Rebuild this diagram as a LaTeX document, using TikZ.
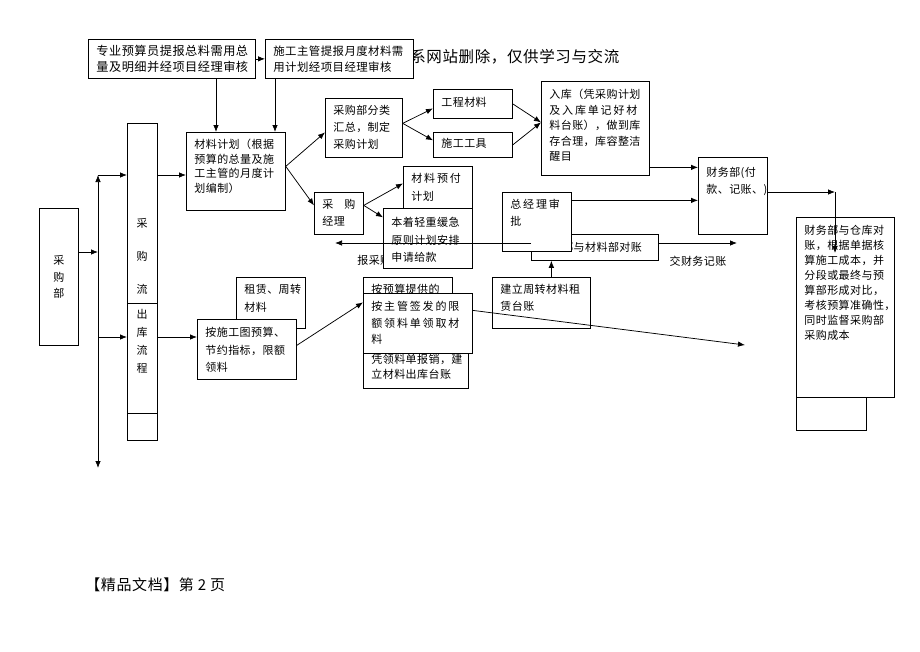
\documentclass[tikz,border=0pt]{standalone}
\usepackage{fontspec}
\setmainfont{Noto Sans CJK SC}[LetterSpace=4]
\usetikzlibrary{arrows.meta,calc,positioning}

% box text: top padding, width, height, text
\newcommand{\bx}[4][7pt]{\parbox[c][#3][t]{#2}{\vspace*{#1}\leftskip=8pt\rightskip=0pt plus 1fil\noindent #4\par}}

\begin{document}
\begin{tikzpicture}[
    x=1pt, y=-1pt,
    line width=0.75pt,
    every node/.style={font=\fontsize{11}{15}\selectfont},
    box/.style={draw, fill=white, inner sep=0pt, anchor=north west},
    arr/.style={-{Latex[length=7pt,width=5.5pt]}},
    lbl/.style={inner sep=0pt}
]
    \useasboundingbox (0,0) rectangle (920,651);

    \node[lbl, anchor=west, font=\fontsize{15.5}{18}\selectfont] (wm) at (410,57) {系网站删除，仅供学习与交流};

    % top boxes
    \node[box, font=\fontsize{12.2}{16}\selectfont] (ysy) at (88,39) {\bx[6pt]{167pt}{39pt}{专业预算员提报总料需用总\\量及明细并经项目经理审核}};
    \node[box, font=\fontsize{11.4}{16}\selectfont] (zgtb) at (265,39) {\bx[6pt]{148pt}{39pt}{施工主管提报月度材料需\\用计划经项目经理审核}};

    % left column
    \node[box, minimum width=39pt, minimum height=137pt, align=center] (cgb) at (39,208) {采\\[1.5pt]购\\[1.5pt]部};
    \node[box, minimum width=30pt, minimum height=317pt] (cgl) at (127,123) {};
    \draw ([yshift=-180pt]cgl.north west) -- ([yshift=-180pt]cgl.north east);
    \draw ([yshift=-290pt]cgl.north west) -- ([yshift=-290pt]cgl.north east);
    \node[lbl, align=center] (cgt) at (142,256) {采\\[18pt]购\\[18pt]流};
    \node[lbl, align=center] (ckt) at (142,341) {出\\[3pt]库\\[3pt]流\\[3pt]程};

    % purchase branch
    \node[box, font=\fontsize{11}{14.5}\selectfont] (clih) at (186,132) {\bx{99pt}{78pt}{材料计划（根据\\预算的总量及施\\工主管的月度计\\划编制）}};
    \node[box] (cgfl) at (325,98) {\bx{77pt}{59pt}{采购部分类\\[2pt]汇总，制定\\[2pt]采购计划}};
    \node[box] (gccl) at (433,89) {\bx[8pt]{79pt}{29pt}{工程材料}};
    \node[box] (sggj) at (433,132) {\bx[6pt]{79pt}{25pt}{施工工具}};
    \node[box, font=\fontsize{11}{15.5}\selectfont] (rk) at (541,81) {\bx[8pt]{108pt}{94pt}{入库（凭采购计划\\及\,入\,库\,单\,记\,好\,材\\料台账），做到库\\存合理，库容整洁\\醒目}};
    \node[box] (cwb) at (698,157) {\bx[10pt]{69pt}{77pt}{财务部(付\\[2pt]款、记账、)}};
    \node[box] (cgjl) at (314,192) {\bx{49pt}{42pt}{采\quad 购\\[2pt]经理}};
    \node[box] (yfjh) at (403,166) {\bx{69pt}{42pt}{材\,料\,预\,付\\[3pt]计划}};
    \node[lbl, anchor=west] (bcg) at (357,260) {报采购};
    \node[box] (qzhj) at (383,208) {\bx[9pt]{89pt}{60pt}{本着轻重缓急\\[2.5pt]原则计划安排\\[2.5pt]申请给款}};
    \node[box] (dz) at (531,234) {\bx[8pt]{127pt}{26pt}{采购部与材料部对账}};
    \node[box] (zjl) at (502,192) {\bx{69pt}{59pt}{总\,经\,理\,审\\[2pt]批}};
    \node[lbl] (jcwt) at (698,261) {交财务记账};
    \node[box] (zzl) at (492,277) {\bx{98pt}{51pt}{建立周转材料租\\[2pt]赁台账}};

    % outflow branch
    \node[box] (zlg) at (236,277) {\bx{69pt}{51pt}{租赁、周转\\[3pt]材料}};
    \node[box] (xgt) at (197,319) {\bx[8pt]{99pt}{60pt}{按施工图预算、\\[2.5pt]节约指标，限额\\[2.5pt]领料}};
    \node[box] (ysb1) at (363,277) {\bx{89pt}{40pt}{按预算提供的}};
    \node[box] (ysb2) at (363,345) {\bx[8.5pt]{105pt}{43pt}{凭领料单报销，建\\立材料出库台账}};
    \node[box] (xe) at (363,293) {\bx[8pt]{109pt}{60pt}{按\,主\,管\,签\,发\,的\,限\\[1.5pt]额\,领\,料\,单\,领\,取\,材\\[1.5pt]料}};

    % finance
    \node[box, minimum width=70pt, minimum height=50pt] (ckb) at (796,380) {};
    \node[box, font=\fontsize{11}{15.1}\selectfont] (ck) at (796,217) {\bx[7.5pt]{98pt}{180pt}{财务部与仓库对\\账，根据单据核\\算施工成本，并\\分段或最终与预\\算部形成对比，\\考核预算准确性，\\同时监督采购部\\采购成本}};

    \node[lbl, anchor=west, font=\fontsize{15}{18}\selectfont] (ft) at (85,585) {【精品文档】第 2 页};

    % spine
    \coordinate (sp) at (98,252);
    \coordinate (spt) at (98,175);
    \coordinate (spm) at (98,337);
    \coordinate (spb) at (98,468);
    \draw[arr] (cgb.east |- sp) -- (sp);
    \draw[arr] (sp) -- (spt);
    \draw[arr] (sp) -- (spb);
    \draw[arr] (spt) -- (cgl.west |- spt);
    \draw[arr] (spm) -- (cgl.west |- spm);
    \draw[arr] (cgl.east |- spt) -- (clih.west |- spt);
    \draw[arr] (cgl.east |- spm) -- (xgt.west |- spm);

    % top
    \draw[arr] (ysy) -- (zgtb);
    \coordinate (ta) at ([xshift=30pt]clih.north west);
    \coordinate (tb) at ([xshift=89pt]clih.north west);
    \draw[arr] (ta |- ysy.south) -- (ta);
    \draw[arr] (tb |- zgtb.south) -- (tb);

    % purchase
    \draw[arr] ([yshift=5pt]clih.east) -- ([yshift=-4.5pt]cgfl.west);
    \draw[arr] ([yshift=5pt]clih.east) -- ([yshift=8pt]cgjl.west);
    \draw[arr] ([yshift=4.5pt]cgfl.east) -- ([yshift=-4.5pt]gccl.west);
    \draw[arr] ([yshift=4.5pt]cgfl.east) -- ([yshift=4.5pt]sggj.west);
    \draw[arr] (gccl.east) -- ([yshift=6pt]rk.west);
    \draw[arr] (sggj.east) -- ([yshift=6pt]rk.west);
    \coordinate (rkc) at ([yshift=-39pt]rk.east);
    \draw[arr] (rkc) -- (cwb.west |- rkc);
    \coordinate (zjc) at ([yshift=21.5pt]zjl.east);
    \draw[arr] (zjc) -- (cwb.west |- zjc);
    \draw[arr] ([yshift=8pt]cgjl.east) -- ([yshift=4pt]yfjh.west);
    \draw[arr] ([yshift=8pt]cgjl.east) -- ([yshift=21pt]qzhj.west);

    % reconcile
    \coordinate (bcl) at (335,243);
    \coordinate (jcw) at (737,243);
    \draw[arr] (dz.west |- bcl) -- (bcl);
    \draw[arr] (dz.east |- jcw) -- (jcw);
    \coordinate (zz) at ([xshift=10pt]zzl.north);
    \draw[arr] (zz) -- (zz |- dz.south);

    % outflow
    \draw[arr] ([yshift=4pt]xgt.east) -- ([yshift=21pt]xe.west);
    \coordinate (xet) at (745,345);
    \draw[arr] ([yshift=13pt]xe.east) -- (xet);

    % finance
    \coordinate (cwc) at (835,192);
    \coordinate (cwd) at (835,253);
    \draw[arr] (cwb.east |- cwc) -- (cwc);
    \draw[arr] (cwc) -- (cwd);
\end{tikzpicture}
\end{document}
